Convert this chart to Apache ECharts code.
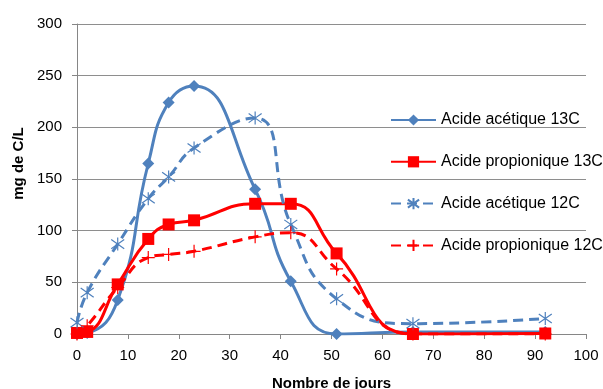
<!DOCTYPE html>
<html>
<head>
<meta charset="utf-8">
<script src="https://cdn.jsdelivr.net/npm/echarts@6/dist/echarts.min.js"></script>
<style>
html,body{margin:0;padding:0;background:#fff;}
#chart{width:603px;height:389px;}
</style>
</head>
<body>
<div id="chart"></div>
<script>
// Data
var days = [0, 2, 8, 14, 18, 23, 35, 42, 51, 66, 92];
var aceticC13 = [0, 1, 33, 165, 224, 240, 140, 51, 0, 2, 2];
var propionicC13 = [1, 2, 48, 92, 106, 110, 126, 126, 78, 0, 0.5];
var aceticC12 = [11, 40, 87, 131, 152, 180, 209, 106, 34, 10, 15];
var propionicC12 = [0, 8, 45, 74, 77, 80, 94, 98, 63, 0, 0];
var seriesNames = ['Acide acétique 13C', 'Acide propionique 13C', 'Acide acétique 12C', 'Acide propionique 12C'];
var yTicks = [0, 50, 100, 150, 200, 250, 300];
var xTicks = [0, 10, 20, 30, 40, 50, 60, 70, 80, 90, 100];

function pairs(vals) {
  return days.map(function (d, i) { return [d, vals[i]]; });
}

var BLUE = '#4f81bd';
var RED = '#ff0000';
var FONT = 'Liberation Sans';
var starPath = 'path://M0,-10L0,10M-7.07,-7.07L7.07,7.07M-7.07,7.07L7.07,-7.07';
var plusPath = 'path://M0,-10L0,10M-10,0L10,0';

var chart = echarts.init(document.getElementById('chart'), null, {renderer: 'canvas'});
chart.setOption({
  animation: false,
  backgroundColor: '#fff',
  grid: {left: 77, right: 17, top: 24, bottom: 55, containLabel: false, outerBoundsMode: 'none'},
  legend: {
    orient: 'vertical',
    left: 385,
    top: 107,
    itemWidth: 45,
    itemHeight: 14,
    itemGap: 25.8,
    textStyle: {fontFamily: FONT, fontSize: 16, color: '#000'},
    data: seriesNames
  },
  xAxis: {
    type: 'value',
    min: xTicks[0],
    max: xTicks[xTicks.length - 1],
    interval: 10,
    name: 'Nombre de jours',
    nameLocation: 'middle',
    nameGap: 42,
    nameTextStyle: {fontFamily: FONT, fontSize: 15, fontWeight: 'bold', color: '#000'},
    axisLine: {show: true, onZero: false, lineStyle: {color: '#868686', width: 1}},
    axisTick: {show: true, inside: false, length: 5, lineStyle: {color: '#868686'}},
    axisLabel: {fontFamily: FONT, fontSize: 15, color: '#000', margin: 14},
    splitLine: {show: false}
  },
  yAxis: {
    type: 'value',
    min: yTicks[0],
    max: yTicks[yTicks.length - 1],
    interval: 50,
    name: 'mg de C/L',
    nameLocation: 'middle',
    nameGap: 45,
    nameTextStyle: {fontFamily: FONT, fontSize: 15, fontWeight: 'bold', color: '#000', padding: [0, 0, 0, 31]},
    axisLine: {show: true, lineStyle: {color: '#868686', width: 1}},
    axisTick: {show: true, inside: false, length: 5, lineStyle: {color: '#868686'}},
    axisLabel: {fontFamily: FONT, fontSize: 15, color: '#000', margin: 15},
    splitLine: {show: true, lineStyle: {color: '#8e8e8e', width: 1}}
  },
  series: [
    {
      name: seriesNames[0], type: 'line', data: pairs(aceticC13), smooth: 0.5,
      symbol: 'diamond', symbolSize: 12, showAllSymbol: true,
      lineStyle: {color: BLUE, width: 3},
      itemStyle: {color: BLUE}
    },
    {
      name: seriesNames[1], type: 'line', data: pairs(propionicC13), smooth: 0.5,
      symbol: 'rect', symbolSize: 12, showAllSymbol: true,
      lineStyle: {color: RED, width: 3},
      itemStyle: {color: RED}
    },
    {
      name: seriesNames[2], type: 'line', data: pairs(aceticC12), smooth: 0.5,
      symbol: starPath, symbolSize: 13, showAllSymbol: true,
      lineStyle: {color: BLUE, width: 3, type: [10, 6]},
      itemStyle: {color: 'rgba(0,0,0,0)', borderColor: BLUE, borderWidth: 1.2}
    },
    {
      name: seriesNames[3], type: 'line', data: pairs(propionicC12), smooth: 0.5,
      symbol: plusPath, symbolSize: 13, showAllSymbol: true,
      lineStyle: {color: RED, width: 3, type: [10, 6]},
      itemStyle: {color: 'rgba(0,0,0,0)', borderColor: RED, borderWidth: 1.2}
    }
  ]
});
</script>
</body>
</html>
